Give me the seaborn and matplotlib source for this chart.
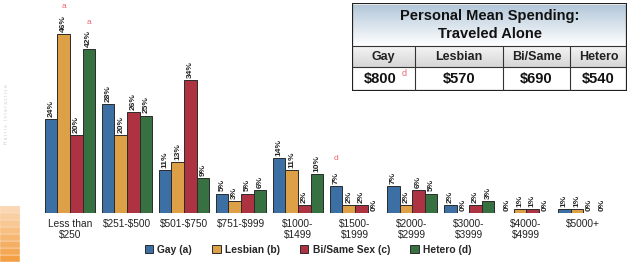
import matplotlib
matplotlib.use("Agg")
import matplotlib.pyplot as plt
import matplotlib.patches as mpatches
import numpy as np
import pandas as pd
import seaborn as sns

# data
categories = ["Less than\n\\$250", "\\$251-\\$500", "\\$501-\\$750", "\\$751-\\$999", "\\$1000-\n\\$1499",
              "\\$1500-\n\\$1999", "\\$2000-\n\\$2999", "\\$3000-\n\\$3999", "\\$4000-\n\\$4999", "\\$5000+"]
groups = ["Gay (a)", "Lesbian (b)", "Bi/Same Sex (c)", "Hetero (d)"]
gay = [24, 28, 11, 5, 14, 7, 7, 2, 0, 1]
lesbian = [46, 20, 13, 3, 11, 2, 2, 0, 1, 1]
bisame = [20, 26, 34, 5, 2, 2, 6, 2, 1, 0]
hetero = [42, 25, 9, 6, 10, 0, 5, 3, 0, 0]
colors = ["#2b70b5", "#f6a52e", "#c21f33", "#2e7b3b"]

# significance letters: (group index, category index, letter)
sig_marks = [(1, 0, "a"), (3, 0, "a"), (0, 5, "d")]

table_title = "Personal Mean Spending:\nTraveled Alone"
table_cols = ["Gay", "Lesbian", "Bi/Same", "Hetero"]
table_vals = ["\\$800", "\\$570", "\\$690", "\\$540"]

df = pd.DataFrame({
    "cat": categories * 4,
    "grp": [g for g in groups for _ in categories],
    "pct": gay + lesbian + bisame + hetero,
})

sns.set_style("white")
plt.rcParams["font.family"] = ["Liberation Sans", "DejaVu Sans"]

fig = plt.figure(figsize=(6.33, 2.62), dpi=100)
ax = fig.add_axes([40 / 633, 49 / 262, 575 / 633, 195 / 262])

sns.barplot(data=df, x="cat", y="pct", hue="grp", hue_order=groups, palette=colors,
            width=0.88, gap=0, edgecolor="#2a2a2a", linewidth=0.7, ax=ax)

for cont in ax.containers:
    ax.bar_label(cont, fmt="%d%%", rotation=90, fontsize=6, fontweight="bold",
                 color="#222222", padding=1.5)

for gi, ci, letter in sig_marks:
    bar = ax.containers[gi][ci]
    ax.text(bar.get_x() + bar.get_width() / 2, bar.get_height() + 6.0, letter,
            ha="center", va="bottom", fontsize=6, color="#e8646e")

ax.set_ylim(0, 50)
ax.set_xlim(-0.526, 9.56)
ax.set_xlabel("")
ax.set_ylabel("")
ax.set_yticks([])
ax.tick_params(axis="x", length=0, pad=4, labelsize=7.3, colors="#222222")
for s in ax.spines.values():
    s.set_visible(False)

leg = ax.legend(loc="center", ncol=4, frameon=False,
                fontsize=7.4, handlelength=0.8, handleheight=0.8, columnspacing=2.0,
                handletextpad=0.4)
leg.set_bbox_to_anchor((308 / 633, 12 / 262), transform=fig.transFigure)
for t in leg.get_texts():
    t.set_fontweight("bold")

# left-side decoration
for i in range(8):
    fig.patches.append(mpatches.Rectangle((0, i * 7 / 262), 20 / 633, 7 / 262,
                       transform=fig.transFigure, facecolor="#f39a3a",
                       alpha=0.95 - i * 0.08, edgecolor="white", linewidth=0.3))
fig.text(7 / 633, 148 / 262, "H a r r i s   I n t e r a c t i v e", rotation=90, fontsize=3.4,
         color="#d0d0d0", ha="center", va="center")

# table in the top right corner
tax = fig.add_axes([352 / 633, 171 / 262, 275 / 633, 88 / 262])
tax.set_xlim(0, 275)
tax.set_ylim(88, 0)
tax.axis("off")
grad = np.linspace(0, 1, 50).reshape(-1, 1)
tax.imshow(grad, extent=(0, 275, 43, 2), cmap=matplotlib.colors.LinearSegmentedColormap.from_list(
    "tg", ["#b4c8da", "#ffffff"]), aspect="auto", zorder=0)
tax.imshow(grad, extent=(0, 275, 64, 43), cmap=matplotlib.colors.LinearSegmentedColormap.from_list(
    "hg", ["#f4f4f4", "#d6d6d6"]), aspect="auto", zorder=0)
tax.add_patch(mpatches.Rectangle((0, 0), 275, 88, fill=False, edgecolor="#222222", linewidth=1.6))
tax.plot([0, 275], [43, 43], color="#333333", linewidth=0.8)
tax.plot([0, 275], [64, 64], color="#333333", linewidth=0.8)
col_edges = [0, 63, 151, 218, 275]
for xe in col_edges[1:-1]:
    tax.plot([xe, xe], [43, 88], color="#333333", linewidth=0.8)
tax.text(137.5, 22, table_title, ha="center", va="center", fontsize=10.5,
         fontweight="bold", color="#111111", linespacing=1.3)
for i in range(4):
    xc = (col_edges[i] + col_edges[i + 1]) / 2
    tax.text(xc, 54, table_cols[i], ha="center", va="center", fontsize=9,
             fontweight="bold", color="#222222")
    tax.text(xc - (3 if i == 0 else 0), 76.5, table_vals[i], ha="center", va="center",
             fontsize=10.5, fontweight="bold", color="#111111")
tax.text(52, 71, "d", ha="center", va="center", fontsize=6.5, color="#e8646e")

fig.savefig("out.png", dpi=100, facecolor="white")
